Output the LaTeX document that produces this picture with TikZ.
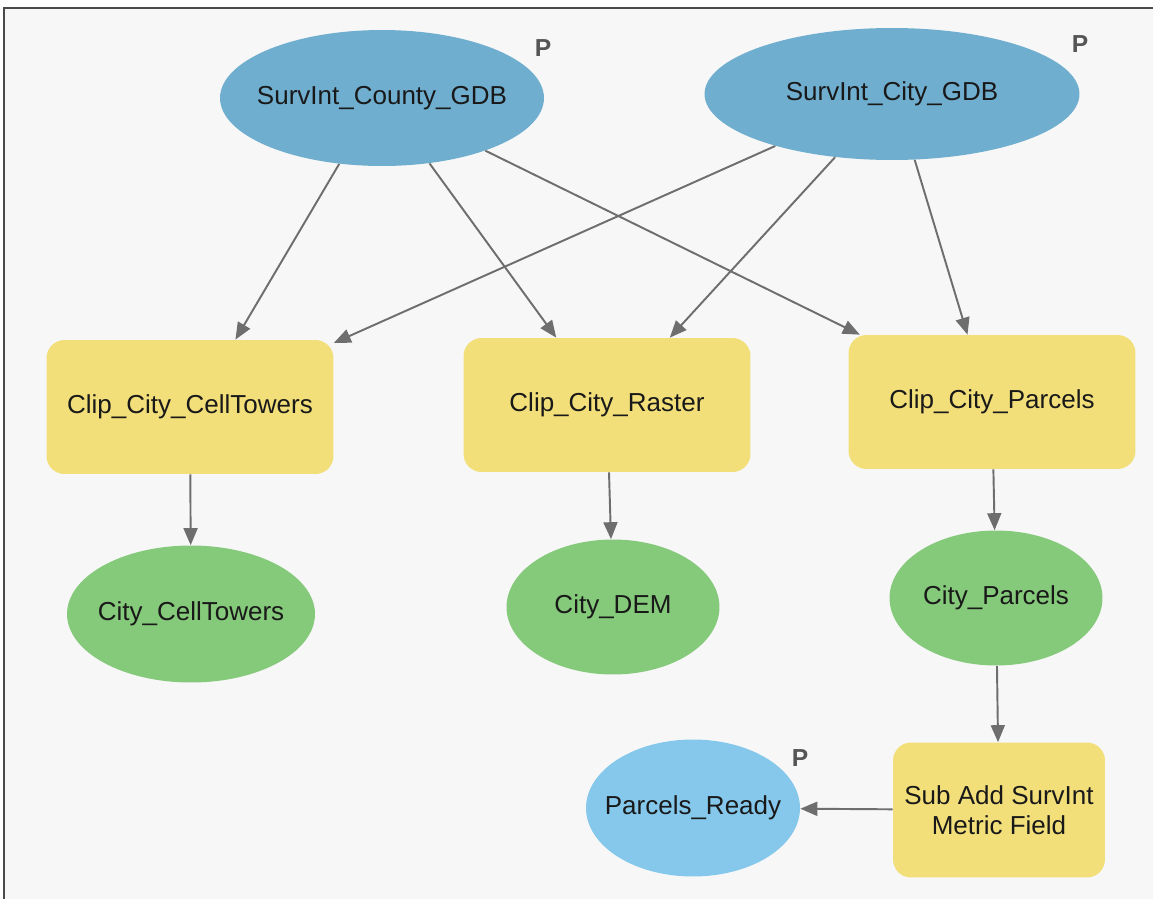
\documentclass[tikz,border=0pt]{standalone}
\usepackage{fontspec}
\setmainfont{Liberation Sans}
\usetikzlibrary{arrows.meta,shapes.geometric}
\definecolor{gdbblue}{HTML}{6FAECF}
\definecolor{toolyellow}{HTML}{F2DF7A}
\definecolor{outgreen}{HTML}{85C97A}
\definecolor{readyblue}{HTML}{85C8EB}
\definecolor{arrowgray}{HTML}{6E6E6E}
\definecolor{pgray}{HTML}{555555}
\definecolor{bggray}{HTML}{F7F7F7}
\definecolor{framegray}{HTML}{4A4A4A}

\begin{document}
\begin{tikzpicture}[x=0.02cm,y=-0.02cm,
  font=\fontsize{14.8}{17}\selectfont,
  data/.style={ellipse,inner xsep=-0.6cm,text=black!90},
  tool/.style={rectangle,rounded corners=0.36cm,fill=toolyellow,text=black!90,
    minimum width=5.74cm,minimum height=2.68cm,align=center},
  flow/.style={draw=arrowgray,line width=1.1pt,-{Triangle[length=0.34cm,width=0.28cm]}},
  param/.style={font=\fontsize{14}{16}\selectfont\bfseries,text=pgray}]
  \useasboundingbox (0,0) rectangle (1153,899);
  \fill[white] (0,0) rectangle (1153,899);
  \fill[bggray] (5,9) rectangle (1153,899);
  \draw[framegray,line width=0.04cm] (4,899) -- (4,8) -- (1153,8);
  \node[data,fill=gdbblue,minimum width=6.48cm,minimum height=2.72cm] (county) at (382,98) {SurvInt\_County\_GDB};
  \node[param] (pcounty) at (543,48) {P};
  \node[data,fill=gdbblue,minimum width=7.5cm,minimum height=2.64cm] (city) at (892,94) {SurvInt\_City\_GDB};
  \node[param] (pcity) at (1080,44) {P};
  \node[tool] (cliptow) at (190,407) {Clip\_City\_CellTowers};
  \node[tool] (clipras) at (607,405) {Clip\_City\_Raster};
  \node[tool] (clippar) at (992,402) {Clip\_City\_Parcels};
  \node[data,fill=outgreen,minimum width=4.96cm,minimum height=2.74cm] (towers) at (191,614) {City\_CellTowers};
  \node[data,fill=outgreen,minimum width=4.26cm,minimum height=2.7cm] (dem) at (613,607) {City\_DEM};
  \node[data,fill=outgreen,minimum width=4.26cm,minimum height=2.7cm] (parcels) at (996,598) {City\_Parcels};
  \node[tool,minimum width=4.24cm,minimum height=2.7cm] (addfield) at (999,810) {Sub Add SurvInt\\Metric Field};
  \node[data,fill=readyblue,minimum width=4.28cm,minimum height=2.74cm] (ready) at (693,808) {Parcels\_Ready};
  \node[param] (pready) at (800,758) {P};
  \draw[flow] (county.-123) -- (cliptow.56);
  \draw[flow] (county.-54) -- (clipras.127);
  \draw[flow] (county.-27) -- (clippar.153);
  \draw[flow] (city.-156) -- (cliptow.24);
  \draw[flow] (city.-132) -- (clipras.47);
  \draw[flow] (city.-71) -- (clippar.110);
  \draw[flow] (cliptow) -- (towers);
  \draw[flow] (clipras) -- (dem);
  \draw[flow] (clippar) -- (parcels);
  \draw[flow] (parcels) -- (addfield);
  \draw[flow] (addfield) -- (ready);
\end{tikzpicture}
\end{document}
